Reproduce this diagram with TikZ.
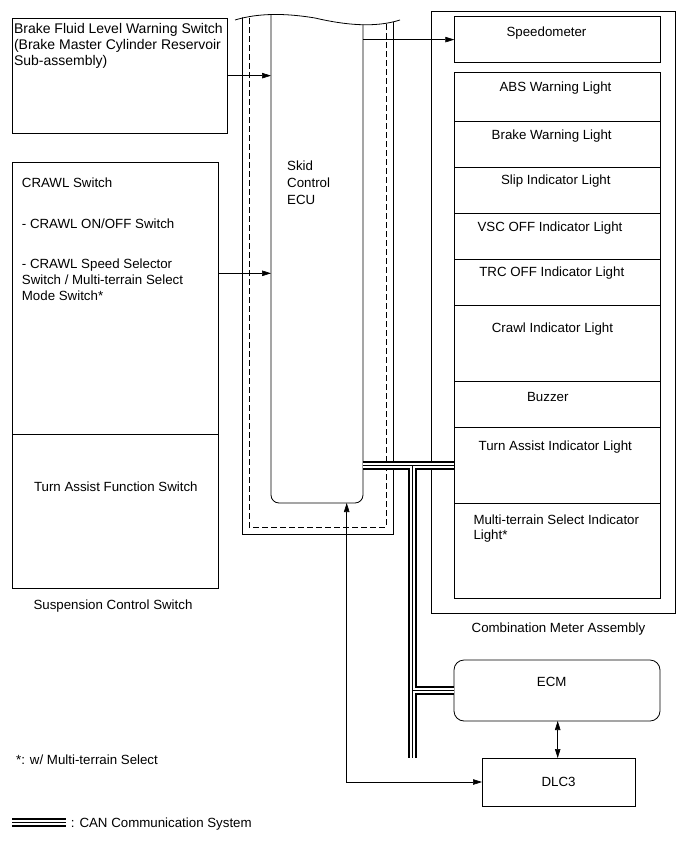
\documentclass[tikz,border=0pt]{standalone}
\usepackage{fontspec}
\setmainfont{Liberation Sans}
\usetikzlibrary{arrows.meta}
\begin{document}
\begin{tikzpicture}[x=1pt,y=-1pt,
  box/.style={draw, line width=0.8pt, inner sep=0pt, outer sep=0pt, anchor=north west},
  lbl/.style={inner sep=0pt, anchor=base, font=\fontsize{13.3pt}{15.5pt}\selectfont},
  lbll/.style={lbl, anchor=base west},
  arr/.style={line width=0.6pt, -{Triangle[length=9pt,width=5.5pt]}},
  arrb/.style={line width=0.6pt, {Triangle[length=9pt,width=5.5pt]}-{Triangle[length=9pt,width=5.5pt]}},
  canout/.style={line width=8.4pt},
  canin/.style={white, line width=5pt},
  canmid/.style={line width=0.9pt}]
\useasboundingbox (0,0) rectangle (690,854);

% ---------- Skid Control ECU (cut-off top) ----------
\begin{scope}
  \clip (230,20) .. controls (258,13) and (285,13) .. (315,18)
        .. controls (345,25) and (375,28) .. (405,19) -- (405,600) -- (230,600) -- cycle;
  \draw[line width=0.8pt] (242,0) |- (393,534) -- (393,0);
  \draw[line width=0.8pt, dash pattern=on 6pt off 3pt] (249,0) |- (386,527) -- (386,0);
  \node[draw, line width=0.8pt, rounded corners=8pt, inner sep=0pt, outer sep=0pt,
        minimum width=92pt, minimum height=503pt, anchor=south west] (ecu) at (271,503) {};
\end{scope}
\draw[line width=0.8pt] (235,20) .. controls (258,13) and (285,13) .. (315,18)
      .. controls (345,25) and (375,28) .. (400,20);
\node[lbll] (ecut1) at (287,170) {Skid};
\node[lbll] (ecut2) at (287,187) {Control};
\node[lbll] (ecut3) at (287,204) {ECU};

% ---------- Left boxes ----------
\node[box, minimum width=215.4pt, minimum height=114.7pt] (brake) at (12.3,18.3) {};
\node[lbll, font=\fontsize{14pt}{16pt}\selectfont] (bt1) at (13.8,33.3) {Brake Fluid Level Warning Switch};
\node[lbll, font=\fontsize{14pt}{16pt}\selectfont] (bt2) at (13.8,49.8) {(Brake Master Cylinder Reservoir};
\node[lbll, font=\fontsize{14pt}{16pt}\selectfont] (bt3) at (13.8,65.6) {Sub-assembly)};

\node[box, minimum width=206pt, minimum height=272pt] (crawlbox) at (12.3,162.3) {};
\node[box, minimum width=206pt, minimum height=154pt] (tafs) at (12.3,434.3) {};
\node[lbll] (ct1) at (21.7,187.8) {CRAWL Switch};
\node[lbll] (ct2) at (21.7,228.5) {- CRAWL ON/OFF Switch};
\node[lbll] (ct3) at (21.7,268.8) {- CRAWL Speed Selector};
\node[lbll] (ct4) at (21.7,284.4) {Switch / Multi-terrain Select};
\node[lbll] (ct5) at (21.7,300) {Mode Switch*};
\node[lbl] (tt1) at (115.8,491.2) {Turn Assist Function Switch};
\node[lbl] (sct) at (113,609.5) {Suspension Control Switch};

% ---------- Combination Meter Assembly ----------
\node[box, minimum width=243.8pt, minimum height=601.8pt] (comb) at (431.7,11.7) {};
\node[box, minimum width=206.2pt, minimum height=45.8pt] (speedo) at (454.3,16.7) {};
\node[box, minimum width=205.9pt, minimum height=49pt]   (abs)  at (454.3,72.7) {};
\node[box, minimum width=205.9pt, minimum height=46pt]   (brk)  at (454.3,121.7) {};
\node[box, minimum width=205.9pt, minimum height=46pt]   (slip) at (454.3,167.7) {};
\node[box, minimum width=205.9pt, minimum height=45.6pt] (vsc)  at (454.3,213.7) {};
\node[box, minimum width=205.9pt, minimum height=45.7pt] (trc)  at (454.3,259.3) {};
\node[box, minimum width=205.9pt, minimum height=76.7pt] (crw)  at (454.3,305) {};
\node[box, minimum width=205.9pt, minimum height=45.6pt] (buz)  at (454.3,381.7) {};
\node[box, minimum width=205.9pt, minimum height=76pt]   (tai)  at (454.3,427.3) {};
\node[box, minimum width=205.9pt, minimum height=95.2pt] (mts)  at (454.3,503.3) {};

\node[lbl] (t0) at (546.5,36.8) {Speedometer};
\node[lbl] (t1) at (555.5,91.2) {ABS Warning Light};
\node[lbl] (t2) at (551.7,139.5) {Brake Warning Light};
\node[lbl] (t3) at (555.8,184.5) {Slip Indicator Light};
\node[lbl] (t4) at (550,231.2) {VSC OFF Indicator Light};
\node[lbl] (t5) at (551.8,276.8) {TRC OFF Indicator Light};
\node[lbl] (t6) at (552.5,332.8) {Crawl Indicator Light};
\node[lbl] (t7) at (547.8,401.2) {Buzzer};
\node[lbl] (t8) at (555.3,450.2) {Turn Assist Indicator Light};
\node[lbll] (t9) at (473.3,524.5) {Multi-terrain Select Indicator};
\node[lbll] (t10) at (473.3,539.8) {Light*};
\node[lbl] (cma) at (558.5,632.8) {Combination Meter Assembly};

% ---------- ECM / DLC3 ----------
\node[box, rounded corners=10pt, minimum width=206pt, minimum height=61pt] (ecm) at (454,660) {};
\node[lbl] (ecmt) at (551.7,686.2) {ECM};
\node[box, minimum width=153pt, minimum height=48pt] (dlc) at (482,758) {};
\node[lbl] (dlct) at (558.5,786.5) {DLC3};

% ---------- Signal connectors ----------
\draw[arr] (brake.east) -- (brake.east -| ecu.west);
\coordinate (c1) at (218.3,273.3);
\draw[arr] (c1) -- (c1 -| ecu.west);
\draw[arr] (speedo.west -| ecu.east) -- (speedo.west);
\coordinate (ecuin) at (346.7,503);
\draw[arrb] (ecuin) |- (dlc.west);
\draw[arrb] (ecm.south -| 557.7,0) -- (dlc.north -| 557.7,0);

% ---------- CAN bus ----------
\coordinate (bj) at (412.5,0);
\coordinate (bend) at (412.5,758);
\draw[canout] (ecu.east |- tai.west) -- (tai.west)
              (bj |- tai.west) -- (bend)
              (bj |- ecm.west) -- (ecm.west);
\draw[canin]  (ecu.east |- tai.west) -- (tai.west)
              (bj |- tai.west) -- (bend)
              (bj |- ecm.west) -- (ecm.west);
\draw[canmid] (ecu.east |- tai.west) -- (tai.west)
              (bj |- tai.west) -- (bend)
              (bj |- ecm.west) -- (ecm.west);

% ---------- Notes / legend ----------
\node[lbll] (note) at (16,764.5) {*: w/ Multi-terrain Select};
\coordinate (lg1) at (12,822.5);
\coordinate (lg2) at (66,822.5);
\draw[canout] (lg1) -- (lg2);
\draw[canin] (lg1) -- (lg2);
\draw[canmid] (lg1) -- (lg2);
\node[lbll] (lgt) at (70.7,827.2) {: CAN Communication System};
\end{tikzpicture}
\end{document}
